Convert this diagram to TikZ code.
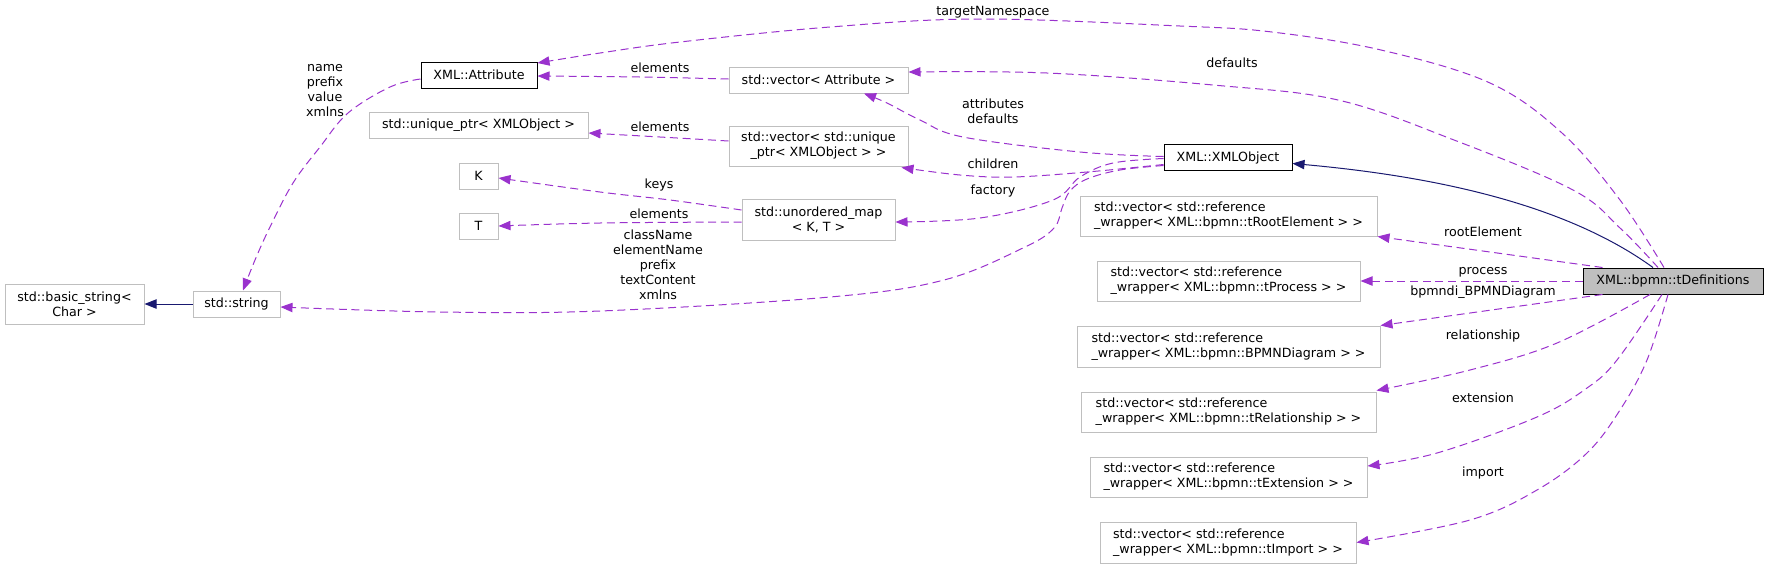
\documentclass[tikz,border=0pt]{standalone}
\usepackage{fontspec}
\setmainfont{DejaVu Sans}
\usetikzlibrary{arrows.meta,calc}
\definecolor{depc}{HTML}{9A32CD}
\definecolor{inhc}{HTML}{191970}
\definecolor{boxgray}{HTML}{BFBFBF}
\newcommand\dfont{\fontsize{9.5}{11.25}\selectfont}
\tikzset{
  box/.style={draw=boxgray, line width=0.75pt, inner sep=0pt, font=\dfont, align=center, text=black},
  dbox/.style={box, draw=black},
  sz/.style 2 args={minimum width=#1*0.75pt, minimum height=#2*0.75pt},
  lbl/.style={inner sep=0pt, font=\dfont, align=center, text=black},
  dep/.style={draw=depc, line width=0.75pt, dash pattern=on 6pt off 3.5pt, -{Triangle[length=9pt,width=7pt]}},
  inh/.style={draw=inhc, line width=0.75pt, -{Triangle[length=9pt,width=7pt]}},
}
\begin{document}
\begin{tikzpicture}[x=0.75pt,y=-0.75pt]
\useasboundingbox (0,0) rectangle (1768,569);

% nodes
\node[dbox,sz={116}{26}] (attr) at (479,75) {XML::Attribute};
\node[box,sz={179}{26}] (vattr) at (818.5,80) {std::vector< Attribute >};
\node[box,sz={219}{26}] (uptr) at (478.5,125) {std::unique\_ptr< XMLObject >};
\node[box,sz={179}{40}] (vuptr) at (818.5,146) {std::vector< std::unique\\\_ptr< XMLObject > >};
\node[box,sz={39}{26}] (K) at (478.5,176) {K};
\node[box,sz={39}{26}] (T) at (478.5,226) {T};
\node[box,sz={153}{41}] (umap) at (818.5,219.5) {std::unordered\_map\\< K, T >};
\node[box,sz={139}{40}] (bstr) at (74.5,304) {std::basic\_string<\\Char >};
\node[box,sz={87}{26}] (str) at (236.5,304) {std::string};
\node[dbox,sz={128}{26}] (xobj) at (1228,157.5) {XML::XMLObject};
\node[box,sz={297}{40},align=left] (root) at (1228.5,216) {std::vector< std::reference\\\_wrapper< XML::bpmn::tRootElement > >};
\node[box,sz={263}{40},align=left] (proc) at (1228.5,281) {std::vector< std::reference\\\_wrapper< XML::bpmn::tProcess > >};
\node[box,sz={303}{41},align=left] (diag) at (1228.5,346.5) {std::vector< std::reference\\\_wrapper< XML::bpmn::BPMNDiagram > >};
\node[box,sz={295}{40},align=left] (rel) at (1228.5,412) {std::vector< std::reference\\\_wrapper< XML::bpmn::tRelationship > >};
\node[box,sz={277}{40},align=left] (ext) at (1228.5,477) {std::vector< std::reference\\\_wrapper< XML::bpmn::tExtension > >};
\node[box,sz={256}{41},align=left] (imp) at (1228,542.5) {std::vector< std::reference\\\_wrapper< XML::bpmn::tImport > >};
\node[dbox,sz={180}{26},fill=boxgray] (tdef) at (1673,281) {XML::bpmn::tDefinitions};

% end points
\coordinate (tn0) at ($(tdef.north)+(-9,0)$);
\coordinate (tn1) at ($(attr.north east)+(0,1.5)$);
\coordinate (df0) at ($(tdef.north)+(-15,0)$);
\coordinate (df1) at ($(vattr.east)+(0,-8)$);
\coordinate (at0) at ($(xobj.west)+(0,-1)$);
\coordinate (at1) at ($(vattr.south)+(45.5,0)$);
\coordinate (ch0) at ($(xobj.west)+(0,7)$);
\coordinate (ch1) at ($(vuptr.south east)+(-7,1)$);
\coordinate (fa0) at ($(xobj.west)+(0,1)$);
\coordinate (fa1) at ($(umap.east)+(0,2.5)$);
\coordinate (cn0) at ($(xobj.west)+(0,8)$);
\coordinate (cn1) at ($(str.east)+(0,3)$);
\coordinate (ky0) at ($(umap.west)+(0,-9.5)$);
\coordinate (ky1) at ($(K.east)+(0,2)$);
\coordinate (et0) at ($(umap.west)+(0,2.5)$);
\coordinate (eu0) at ($(vuptr.west)+(0,-5)$);
\coordinate (eu1) at ($(uptr.east)+(0,8)$);
\coordinate (ea0) at ($(vattr.west)+(0,-1)$);
\coordinate (ea1) at ($(attr.east)+(0,1)$);
\coordinate (nm0) at ($(attr.west)+(0,4)$);
\coordinate (nm1) at ($(str.north)+(6.5,0)$);
\coordinate (re0) at ($(tdef.north west)+(20,0)$);
\coordinate (bd0) at ($(tdef.south west)+(20,0)$);
\coordinate (rl0) at ($(tdef.south)+(-23,0)$);
\coordinate (rl1) at ($(rel.north east)+(0,-1)$);
\coordinate (ex0) at ($(tdef.south)+(-11,0)$);
\coordinate (ex1) at ($(ext.east)+(0,-11)$);
\coordinate (im0) at ($(tdef.south)+(-5,0)$);
\coordinate (ih0) at ($(tdef.north)+(-20,0)$);
\coordinate (ih1) at ($(xobj.east)+(0,6)$);

% inheritance
\draw[inh] (str.west) -- (bstr.east);
\draw[inh] (ih0) .. controls (1560,200) and (1420,175) .. (ih1);

% usage
\draw[dep] plot[smooth,tension=0.6] coordinates {(tn0) (1620,200) (1562,133) (1490,83) (1381,50) (1272,32) (1180,26) (980,19) (830,27) (680,42) (600,53) (tn1)};
\draw[dep] plot[smooth,tension=0.6] coordinates {(df0) (1620,228) (1573,190) (1454,140) (1338,100) (1213,85) (1047,73) (df1)};
\draw[dep] plot[smooth,tension=0.6] coordinates {(at0) (1080,152) (963,137) (920,120) (887,103) (at1)};
\draw[dep] plot[smooth,tension=0.6] coordinates {(ch0) (1087,172) (1013,177) (960,175) (ch1)};
\draw[dep] plot[smooth,tension=0.6] coordinates {(fa0) (1113,163) (1080,177) (1053,200) (980,218) (fa1)};
\draw[dep] plot[smooth,tension=0.6] coordinates {(cn0) (1120,170) (1087,179) (1070,191) (1062,208) (1054,228) (1025,247) (944,280) (830,297) (600,311) (440,312) (cn1)};
\draw[dep] plot[smooth,tension=0.6] coordinates {(ky0) (670,200) (600,192) (ky1)};
\draw[dep] plot[smooth,tension=0.6] coordinates {(et0) (600,223) (T.east)};
\draw[dep] plot[smooth,tension=0.6] coordinates {(eu0) (660,137) (eu1)};
\draw[dep] plot[smooth,tension=0.6] coordinates {(ea0) (640,77) (ea1)};
\draw[dep] plot[smooth,tension=0.6] coordinates {(nm0) (390,87) (348,113) (320,147) (293,183) (270,227) (255,260) (nm1)};
\draw[dep] (re0) -- (root.south east);
\draw[dep] (tdef.west) -- (proc.east);
\draw[dep] (bd0) -- (diag.north east);
\draw[dep] plot[smooth,tension=0.6] coordinates {(rl0) (1557,343) (1470,370) (rl1)};
\draw[dep] plot[smooth,tension=0.6] coordinates {(ex0) (1617,360) (1587,388) (1537,417) (1437,453) (ex1)};
\draw[dep] plot[smooth,tension=0.6] coordinates {(im0) (1647,360) (1620,410) (1587,453) (1537,490) (1470,520) (imp.east)};

% labels
\node[lbl] (l1) at (993,12) {targetNamespace};
\node[lbl] (l2) at (1232,63) {defaults};
\node[lbl] (l3) at (993,111.5) {attributes\\defaults};
\node[lbl] (l4) at (993,164) {children};
\node[lbl] (l5) at (993,191) {factory};
\node[lbl] (l6) at (1483,232) {rootElement};
\node[lbl] (l7) at (1483,272) {process};
\node[lbl] (l8) at (1483,292) {bpmndi\_BPMNDiagram};
\node[lbl] (l9) at (1483,336) {relationship};
\node[lbl] (l10) at (1483,398) {extension};
\node[lbl] (l11) at (1483,473) {import};
\node[lbl] (l12) at (660,68) {elements};
\node[lbl] (l13) at (660,127) {elements};
\node[lbl] (l14) at (659,185) {keys};
\node[lbl] (l15) at (659,214) {elements};
\node[lbl] (l16) at (325,91) {name\\prefix\\value\\xmlns};
\node[lbl] (l17) at (658,264.5) {className\\elementName\\prefix\\textContent\\xmlns};
\end{tikzpicture}
\end{document}
